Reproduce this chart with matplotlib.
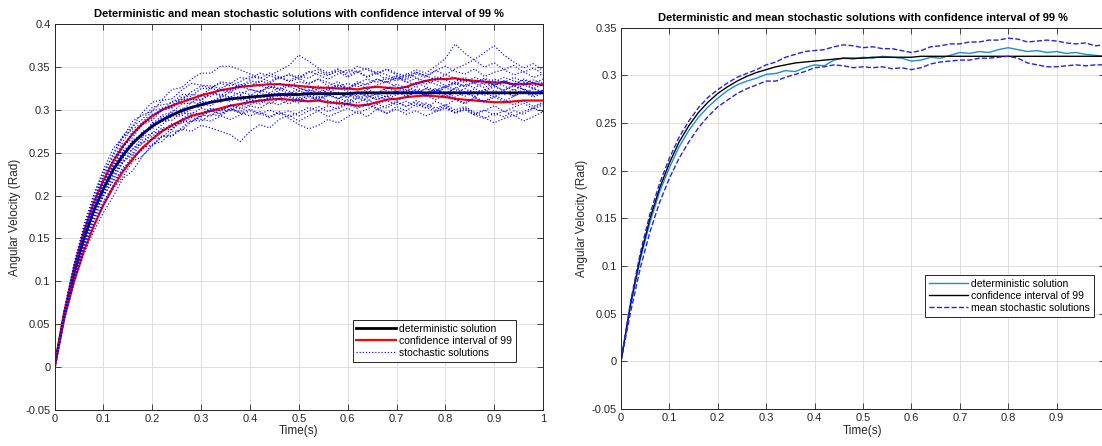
import numpy as np
import matplotlib
matplotlib.use("Agg")
import matplotlib.pyplot as plt

plt.rcParams['font.family'] = ['Liberation Sans', 'DejaVu Sans']

# time axis, step 0.02 s
time_s = [round(0.02 * k, 2) for k in range(51)]

# all values below are in 1e-3 rad
deterministic = [0, 61, 110, 150, 182, 208, 230, 247, 261, 272, 281, 288, 294, 299, 303, 306,
                 309, 311, 313, 314, 315, 316, 317, 318, 318, 318, 319, 319, 319, 319, 319,
                 320, 320, 320, 320, 320, 320, 320, 320, 320, 320, 320, 320, 320, 320, 320,
                 320, 320, 320, 320, 320]

ci_upper_left = [0, 64, 116, 158, 191, 218, 240, 258, 272, 284, 293, 300, 305, 309, 313, 317,
                 320, 323, 325, 327, 328, 329, 330, 330, 329, 328, 327, 326, 326, 325, 325,
                 324, 326, 327, 326, 325, 327, 331, 334, 336, 336, 337, 335, 334, 333, 332,
                 332, 330, 330, 331, 329]
ci_lower_left = [0, 57, 100, 135, 164, 189, 210, 228, 243, 256, 266, 275, 282, 288, 293, 296,
                 299, 302, 305, 307, 309, 311, 312, 313, 312, 311, 310, 311, 309, 308, 307,
                 305, 306, 309, 312, 313, 315, 316, 317, 316, 315, 313, 312, 311, 310, 309,
                 309, 310, 311, 311, 311]

stochastic_paths = [
    [0, 63, 114, 153, 188, 216, 235, 256, 273, 282, 295, 299, 310, 312, 321, 328, 326, 331, 328,
     333, 339, 337, 343, 338, 341, 336, 344, 347, 341, 345, 338, 344, 349, 343, 347, 341, 337,
     344, 340, 346, 351, 345, 342, 348, 339, 344, 347, 341, 345, 338, 342],
    [0, 58, 104, 140, 170, 193, 212, 233, 241, 256, 259, 270, 269, 278, 275, 282, 279, 275, 271,
     263, 275, 283, 279, 289, 294, 287, 293, 299, 292, 297, 302, 296, 301, 307, 302, 309, 304,
     311, 306, 300, 305, 297, 302, 294, 299, 305, 298, 303, 308, 301, 306],
    [0, 65, 117, 160, 195, 224, 249, 270, 281, 297, 309, 312, 324, 326, 336, 343, 343, 351, 351,
     347, 342, 338, 333, 339, 333, 337, 331, 336, 328, 333, 325, 331, 324, 329, 333, 327, 322,
     328, 317, 324, 318, 326, 321, 315, 323, 329, 322, 316, 325, 319, 323],
    [0, 62, 108, 152, 181, 211, 230, 251, 262, 269, 283, 294, 297, 307, 308, 316, 316, 324, 323,
     329, 334, 332, 340, 346, 352, 364, 357, 349, 343, 348, 340, 346, 338, 343, 335, 340, 332,
     337, 330, 335, 328, 333, 338, 331, 336, 329, 334, 327, 332, 325, 330],
    [0, 59, 106, 143, 177, 199, 218, 239, 248, 262, 266, 277, 277, 286, 294, 292, 299, 295, 301,
     296, 301, 296, 291, 297, 290, 283, 278, 282, 289, 285, 292, 298, 292, 301, 296, 304, 299,
     307, 302, 310, 305, 312, 307, 315, 310, 317, 312, 306, 311, 304, 309],
    [0, 64, 111, 155, 184, 214, 233, 246, 265, 272, 278, 290, 292, 302, 302, 310, 309, 316, 314,
     311, 317, 323, 320, 326, 322, 317, 324, 320, 325, 329, 324, 331, 336, 332, 338, 334, 341,
     347, 343, 351, 360, 377, 366, 358, 350, 355, 347, 352, 344, 349, 342],
    [0, 60, 112, 148, 183, 205, 224, 245, 254, 268, 273, 283, 293, 293, 301, 309, 308, 315, 321,
     318, 324, 321, 328, 325, 330, 326, 322, 328, 323, 329, 325, 333, 329, 336, 332, 339, 335,
     342, 338, 346, 341, 348, 353, 359, 367, 375, 364, 356, 349, 354, 346],
    [0, 62, 113, 150, 186, 209, 235, 249, 259, 275, 280, 292, 294, 295, 304, 303, 311, 309, 316,
     313, 310, 316, 313, 319, 315, 311, 317, 313, 318, 314, 310, 316, 312, 307, 311, 306, 310,
     304, 308, 302, 306, 300, 304, 297, 291, 285, 290, 294, 287, 292, 298],
    [0, 57, 102, 138, 166, 189, 208, 222, 240, 246, 258, 269, 270, 279, 288, 287, 295, 293, 301,
     298, 305, 302, 309, 306, 312, 308, 315, 311, 317, 313, 319, 316, 322, 317, 323, 318, 324,
     319, 325, 320, 326, 321, 316, 322, 317, 323, 318, 324, 319, 325, 320],
    [0, 64, 116, 159, 194, 223, 241, 263, 281, 289, 303, 306, 308, 318, 318, 317, 325, 323, 321,
     327, 324, 321, 327, 324, 319, 325, 322, 317, 323, 319, 314, 321, 317, 312, 316, 311, 315,
     321, 317, 323, 319, 325, 330, 326, 332, 328, 334, 329, 335, 331, 336],
    [0, 59, 105, 142, 171, 200, 217, 230, 247, 253, 266, 268, 278, 287, 286, 293, 301, 299, 306,
     303, 310, 307, 314, 320, 316, 322, 319, 325, 320, 326, 322, 318, 324, 319, 325, 330, 326,
     332, 327, 323, 328, 324, 319, 325, 320, 315, 321, 316, 322, 317, 323],
    [0, 60, 107, 145, 179, 201, 226, 238, 255, 261, 273, 275, 284, 284, 291, 289, 287, 293, 289,
     294, 299, 295, 300, 295, 299, 293, 299, 304, 298, 303, 308, 303, 308, 302, 296, 301, 295,
     299, 293, 298, 303, 297, 302, 296, 300, 294, 299, 293, 298, 303, 307],
    [0, 63, 115, 158, 192, 215, 242, 256, 275, 283, 288, 300, 302, 312, 312, 311, 319, 317, 324,
     330, 327, 334, 331, 338, 334, 340, 337, 344, 340, 347, 343, 351, 347, 342, 348, 343, 339,
     344, 340, 335, 341, 337, 332, 338, 333, 329, 334, 330, 336, 332, 328],
    [0, 66, 119, 163, 199, 228, 246, 268, 278, 285, 299, 302, 303, 313, 313, 312, 320, 318, 315,
     321, 318, 314, 320, 315, 320, 314, 320, 314, 319, 313, 318, 313, 318, 312, 317, 323, 318,
     324, 319, 325, 320, 315, 321, 316, 322, 327, 323, 328, 324, 319, 323],
    [0, 67, 121, 165, 201, 230, 255, 268, 287, 294, 299, 311, 313, 323, 331, 329, 328, 325, 331,
     327, 332, 328, 325, 331, 327, 333, 330, 336, 332, 327, 331, 327, 331, 336, 332, 337, 333,
     329, 334, 330, 326, 331, 327, 332, 337, 333, 338, 334, 330, 335, 331],
    [0, 55, 98, 132, 158, 180, 199, 220, 229, 246, 260, 263, 275, 276, 286, 294, 293, 301, 299,
     306, 312, 309, 315, 312, 307, 313, 310, 316, 311, 306, 312, 308, 314, 319, 315, 321, 316,
     322, 317, 312, 318, 313, 308, 314, 309, 315, 310, 316, 321, 315, 320],
    [0, 63, 114, 156, 185, 216, 235, 257, 268, 284, 290, 302, 305, 315, 316, 325, 325, 333, 331,
     338, 336, 343, 340, 336, 342, 338, 345, 341, 336, 342, 347, 344, 339, 345, 341, 336, 342,
     338, 333, 339, 335, 330, 336, 331, 326, 332, 328, 323, 329, 325, 321],
    [0, 58, 109, 145, 174, 204, 221, 241, 250, 265, 269, 279, 280, 289, 297, 295, 302, 299, 305,
     301, 306, 312, 307, 313, 317, 312, 317, 312, 307, 311, 306, 302, 306, 301, 305, 310, 304,
     309, 303, 298, 302, 296, 300, 294, 290, 296, 292, 299, 295, 302, 298],
    [0, 61, 113, 148, 184, 205, 231, 243, 264, 270, 285, 287, 299, 299, 309, 307, 305, 313, 310,
     317, 313, 320, 316, 323, 328, 322, 328, 322, 316, 321, 315, 321, 315, 320, 326, 321, 327,
     322, 316, 321, 315, 320, 325, 319, 324, 318, 323, 329, 324, 318, 322],
    [0, 59, 111, 147, 182, 212, 231, 252, 263, 270, 284, 287, 288, 297, 295, 302, 299, 296, 302,
     297, 293, 298, 292, 298, 292, 297, 303, 299, 305, 301, 307, 314, 310, 316, 312, 318, 323,
     319, 325, 321, 327, 332, 328, 334, 330, 336, 332, 338, 333, 328, 332],
]

mean_stochastic = [0, 59, 107, 146, 178, 203, 225, 242, 256, 267, 276, 284, 290, 294, 297, 301,
                   302, 305, 304, 308, 311, 310, 316, 318, 317, 319, 318, 320, 319, 318, 315,
                   316, 319, 318, 321, 324, 323, 325, 324, 327, 329, 327, 325, 326, 324, 325,
                   323, 324, 322, 321, 320]
ci_upper_right = [0, 63, 114, 155, 187, 213, 235, 252, 266, 277, 285, 292, 298, 302, 306, 311,
                  314, 319, 322, 325, 326, 327, 330, 332, 331, 329, 330, 328, 328, 326, 324,
                  326, 330, 331, 333, 333, 335, 335, 337, 337, 339, 338, 335, 336, 337, 336,
                  334, 333, 334, 331, 332]
ci_lower_right = [0, 52, 98, 136, 167, 192, 213, 230, 245, 257, 267, 274, 281, 286, 290, 294,
                  294, 298, 301, 304, 308, 309, 311, 310, 308, 309, 308, 309, 307, 308, 306,
                  308, 312, 314, 315, 316, 316, 318, 318, 319, 320, 318, 313, 311, 309, 309,
                  310, 311, 310, 311, 311]

title_txt = "Deterministic and mean stochastic solutions with confidence interval of 99 %"
xticks = [0, 0.1, 0.2, 0.3, 0.4, 0.5, 0.6, 0.7, 0.8, 0.9, 1]
xtick_labels_left = ["0", "0.1", "0.2", "0.3", "0.4", "0.5", "0.6", "0.7", "0.8", "0.9", "1"]
xtick_labels_right = xtick_labels_left[:-1] + [""]   # "1" falls outside the cropped image
yticks_left = [-0.05, 0, 0.05, 0.1, 0.15, 0.2, 0.25, 0.3, 0.35, 0.4]
ytick_labels_left = ["-0.05", "0", "0.05", "0.1", "0.15", "0.2", "0.25", "0.3", "0.35", "0.4"]
yticks_right = yticks_left[:-1]
ytick_labels_right = ytick_labels_left[:-1]

t = np.array(time_s)
mrad = lambda v: np.array(v) / 1000.0

axis_col = "#262626"
fig = plt.figure(figsize=(11.02, 4.46), dpi=100)
ax1 = fig.add_axes([0.0495, 0.0814, 0.4433, 0.8641])
ax2 = fig.add_axes([0.5635, 0.0830, 0.4392, 0.8549])


def style_axes(ax, yt, ylab, xlab):
    ax.set_xlim(0, 1)
    ax.set_ylim(yt[0], yt[-1])
    ax.set_xticks(xticks)
    ax.set_xticklabels(xlab)
    ax.set_yticks(yt)
    ax.set_yticklabels(ylab)
    ax.grid(True, color="#dedede", linewidth=0.7)
    ax.set_axisbelow(True)
    ax.tick_params(direction="in", length=4, width=0.6, top=True, right=True,
                   labelsize=8, colors=axis_col, pad=3)
    for s in ax.spines.values():
        s.set_color(axis_col)
        s.set_linewidth(0.7)
    ax.set_xlabel("Time(s)", fontsize=8.5, color=axis_col, labelpad=1)
    ax.set_ylabel("Angular Velocity (Rad)", fontsize=8.5, color=axis_col, labelpad=3)
    ax.set_title(title_txt, fontsize=8, fontweight="bold", pad=5)


# left panel
ax1.plot(t, mrad(deterministic), color="black", lw=2, label="deterministic solution")
ax1.plot(t, mrad(ci_upper_left), color="red", lw=1.6, label="confidence interval of 99")
ax1.plot(t, mrad(ci_lower_left), color="red", lw=1.6)
for i, p in enumerate(stochastic_paths):
    ax1.plot(t, mrad(p), color="blue", lw=0.85, ls=":",
             label="stochastic solutions" if i == 0 else None)
style_axes(ax1, yticks_left, ytick_labels_left, xtick_labels_left)
leg1 = ax1.legend(loc="lower right", bbox_to_anchor=(0.944, 0.1245), fontsize=7.5,
                  fancybox=False, edgecolor=axis_col, framealpha=1, handlelength=3.8,
                  labelspacing=0.2, borderpad=0.35, handletextpad=0.3, borderaxespad=0)
leg1.get_frame().set_linewidth(0.7)

# right panel (legend labels kept as in the original figure)
ax2.plot(t, mrad(mean_stochastic), color="#1a8fd0", lw=1, label="deterministic solution")
ax2.plot(t, mrad(deterministic), color="black", lw=1, label="confidence interval of 99")
ax2.plot(t, mrad(ci_upper_right), color="#2222ee", lw=1, ls="--", label="mean stochastic solutions")
ax2.plot(t, mrad(ci_lower_right), color="#2222ee", lw=1, ls="--")
style_axes(ax2, yticks_right, ytick_labels_right, xtick_labels_right)
leg2 = ax2.legend(loc="lower right", bbox_to_anchor=(0.977, 0.242), fontsize=7.5,
                  fancybox=False, edgecolor=axis_col, framealpha=1, handlelength=3.8,
                  labelspacing=0.2, borderpad=0.35, handletextpad=0.3, borderaxespad=0)
leg2.get_frame().set_linewidth(0.7)

fig.savefig("out.png", dpi=100)
